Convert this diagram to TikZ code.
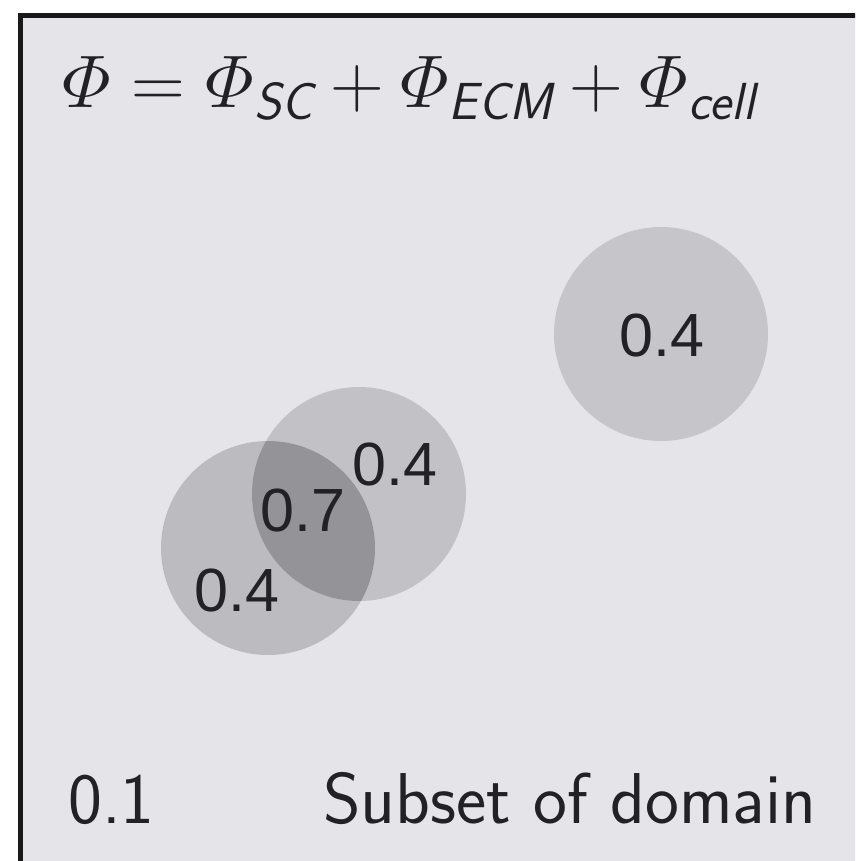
\RequirePackage{fix-cm}
\documentclass[tikz,border=0pt]{standalone}
\usepackage{amsmath}
\usepackage{fontspec}
\usepackage{tikz}
\usetikzlibrary{positioning}
\newfontfamily\arialfont{Liberation Sans}
\definecolor{domainbg}{HTML}{E4E4E9}
\definecolor{cellone}{HTML}{C6C6CA}
\definecolor{celltwo}{HTML}{C2C2C6}
\definecolor{cellthree}{HTML}{BCBCC0}
\definecolor{overlap}{HTML}{949498}
\definecolor{ink}{HTML}{222226}
\tikzset{
    domainbox/.style={
        draw=black!90, line width=5pt, fill=domainbg
    },
    cellblob/.style={
        circle, minimum size=214pt, inner sep=0pt
    },
    phival/.style={
        font=\arialfont\fontsize{61}{63}\selectfont, inner sep=0pt, text=ink
    },
    caption/.style={
        font=\sffamily\fontsize{72}{74}\selectfont, inner sep=0pt, anchor=base west, text=ink
    }
}
\begin{document}
\begin{tikzpicture}[x=1pt, y=-1pt]

    \useasboundingbox (0,0) rectangle (855,861);
    \clip (0,0) rectangle (855,861);
    \fill[white] (0,0) rectangle (855,861);
    \draw[domainbox] (20.5,15.5) rectangle (880,890);

    % formula
    \node[caption, font=\fontsize{74.5}{76}\selectfont] (sum) at (62,108)
        {$\varPhi = \varPhi_{\textsf{\itshape SC}} + \varPhi_{\textsf{\itshape ECM}} + \varPhi_{\textsf{\itshape cell}}$};

    % cells
    \node[cellblob, fill=cellone] (cellA) at (661,334) {};
    \node[cellblob, fill=cellthree] (cellC) at (268,548) {};
    \node[cellblob, fill=celltwo] (cellB) at (359,494) {};
    \begin{scope}
        \clip (268,548) circle (107pt);
        \fill[overlap] (359,494) circle (107pt);
    \end{scope}

    \node[phival] (valA) at (662,335) {0.4};
    \node[phival] (valB) at (395,464) {0.4};
    \node[phival] (valAB) at (303,510) {0.7};
    \node[phival] (valC) at (237,590) {0.4};

    % bottom line
    \node[caption] (bg) at (68,823) {0.1};
    \node[caption] (dom) at (323,823) {Subset of domain};

\end{tikzpicture}
\end{document}
